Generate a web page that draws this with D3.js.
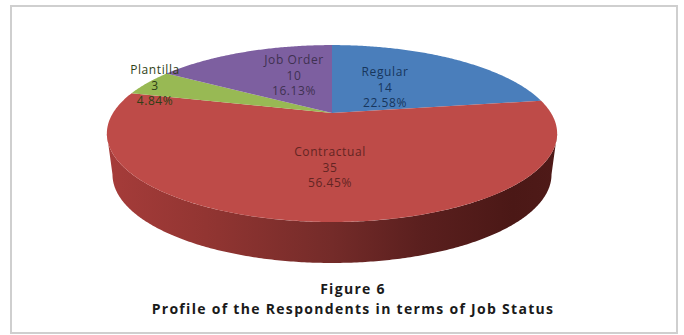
<!DOCTYPE html>
<html>
<head>
<meta charset="utf-8">
<script src="https://cdn.jsdelivr.net/npm/d3@7/dist/d3.min.js"></script>
<style>
html,body{margin:0;padding:0;background:#fff}
svg{display:block}
text{font-family:"Open Sans","Liberation Sans",sans-serif}
</style>
</head>
<body>
<svg id="chart" width="684" height="335"></svg>
<script>
const categories = ["Regular", "Contractual", "Plantilla", "Job Order"];
const counts = [14, 35, 3, 10];
const shares = ["22.58%", "56.45%", "4.84%", "16.13%"];
const sliceColors = ["#4a7ebb", "#be4b48", "#98b954", "#7d5fa0"];
const labelColors = ["#17365d", "#632523", "#2f3f16", "#3f3151"];
const titleLines = ["Figure 6", "Profile of the Respondents  in terms of Job Status"];

const svg = d3.select("#chart");

// Perspective disc: centre, radius on screen, vertical squash, foreshortening, rim height.
const cx = 332, cy = 113, radius = 219, squash = 83.7, persp = 0.232, rim = 41;
const baseScale = 0.975;

function project(angle, scale = 1, drop = 0) {
  const u = Math.sin(angle), v = -Math.cos(angle);
  const w = 1 - persp * v;
  return [cx + scale * radius * u / w, cy + squash * v / w + drop];
}

const arcs = d3.pie().sort(null).value(d => d)(counts);
const line = d3.line();
const samples = (a0, a1, scale = 1, drop = 0) => {
  const n = Math.max(2, Math.ceil(Math.abs(a1 - a0) / 0.01));
  return d3.range(n + 1).map(i => project(a0 + (a1 - a0) * i / n, scale, drop));
};

const defs = svg.append("defs");
const rimGrad = defs.append("linearGradient").attr("id", "rimShade")
  .attr("gradientUnits", "userSpaceOnUse")
  .attr("x1", cx - radius * 1.03).attr("x2", cx + radius * 1.03).attr("y1", 0).attr("y2", 0);
[[0, "#a63c3a"], [0.22, "#923532"], [0.5, "#742b29"], [0.7, "#5a1f1e"], [0.9, "#4b1816"], [1, "#4f1a18"]]
  .forEach(([o, c]) => rimGrad.append("stop").attr("offset", o).attr("stop-color", c));

// Outer frame
svg.append("rect").attr("x", 11).attr("y", 6).attr("width", 666).attr("height", 327)
  .attr("fill", "#fff").attr("stroke", "#cfcfcf").attr("stroke-width", 2);

// Rim: the front half of the disc edge, extruded downwards to a slightly narrower base
const tangent = Math.acos(persp);
const rimStart = Math.PI - tangent, rimEnd = Math.PI + tangent;
const rimPath = samples(rimStart, rimEnd).concat(samples(rimEnd, rimStart, baseScale, rim));
svg.append("path").attr("d", line(rimPath) + "Z").attr("fill", "url(#rimShade)");

// Top face slices
svg.append("g").selectAll("path").data(arcs).join("path")
  .attr("d", d => line([[cx, cy]].concat(samples(d.startAngle, d.endAngle))) + "Z")
  .attr("fill", (d, i) => sliceColors[i]);

// Slice labels: name, count, share
const labelAnchor = [[385, 76], [330, 156], [155, 74], [294, 64]];
const lineGap = 15.5;
const labels = svg.append("g").attr("font-size", 12).attr("letter-spacing", 0.6).attr("text-anchor", "middle");
categories.forEach((name, i) => {
  const g = labels.append("g").attr("fill", labelColors[i]);
  [name, String(counts[i]), shares[i]].forEach((t, j) => {
    g.append("text").attr("x", labelAnchor[i][0]).attr("y", labelAnchor[i][1] + j * lineGap).text(t);
  });
});

// Caption
const caption = svg.append("g").attr("text-anchor", "middle").attr("fill", "#1a1a1a")
  .attr("font-weight", 700).attr("font-size", 14).attr("letter-spacing", 1.3).style("white-space", "pre");
caption.append("text").attr("x", 353).attr("y", 294).text(titleLines[0]);
caption.append("text").attr("x", 353).attr("y", 314).text(titleLines[1]);
</script>
</body>
</html>
